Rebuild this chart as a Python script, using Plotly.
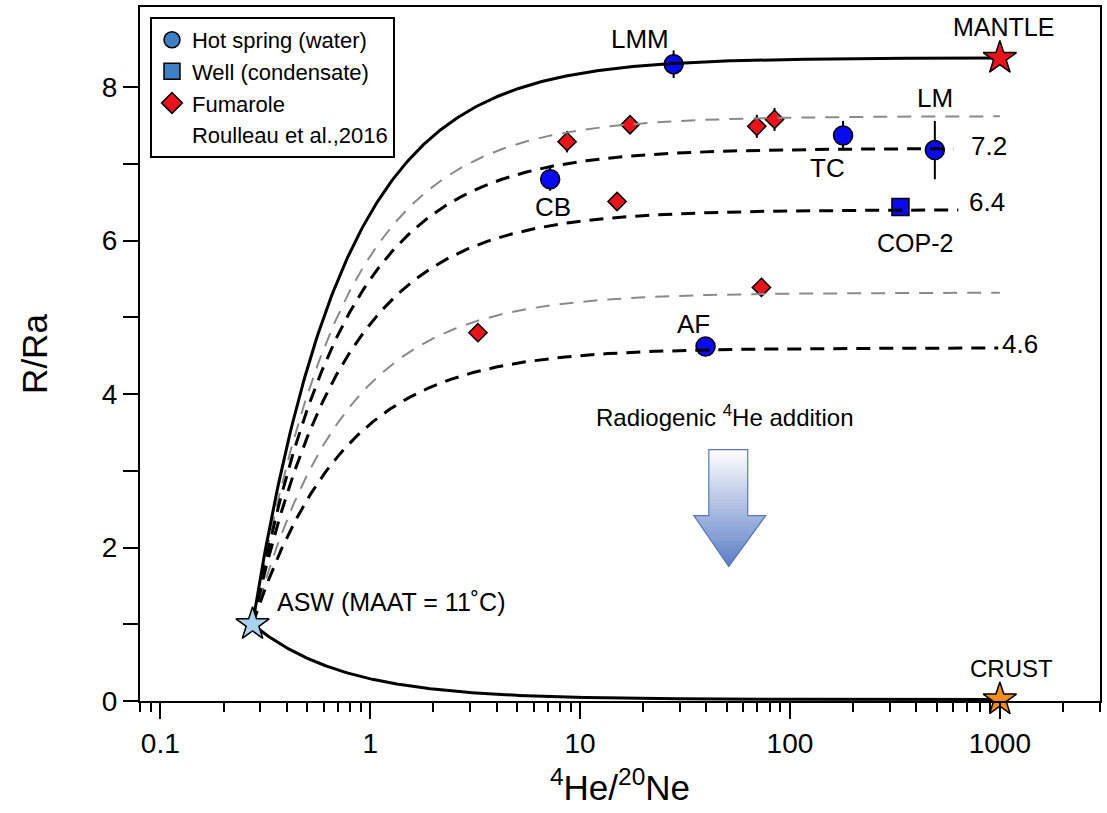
import numpy as np
import plotly.graph_objects as go

FONT = "Liberation Sans, Arial, Helvetica, sans-serif"

# ---- samples -------------------------------------------------------------
# Hot springs (water)
spring_names = ["LMM", "CB", "TC", "LM", "AF"]
spring_he_ne = [27.9, 7.2, 179.0, 490.0, 39.6]
spring_r_ra = [8.30, 6.80, 7.37, 7.18, 4.62]
spring_err = [0.18, 0.15, 0.19, 0.38, 0.0]

# Well (condensate)
well_names = ["COP-2"]
well_he_ne = [336.0]
well_r_ra = [6.44]
well_err = [0.08]

# Fumaroles (Roulleau et al., 2016)
fum_he_ne = [8.67, 17.3, 15.0, 69.5, 84.4, 3.26, 73.1]
fum_r_ra = [7.29, 7.51, 6.51, 7.49, 7.58, 4.80, 5.39]
fum_err = [0.14, 0.10, 0.0, 0.15, 0.15, 0.0, 0.0]

# ---- end-members -------------------------------------------------------------
asw_he_ne, asw_r_ra = 0.275, 1.0
mantle_he_ne, mantle_r_ra = 1000.0, 8.38
crust_he_ne, crust_r_ra = 1000.0, 0.02

# ASW-mixing curves: (end-member R/Ra, last 4He/20Ne drawn)
black_dash_r = [7.2, 6.4, 4.6]
black_dash_end = [600.0, 634.0, 982.0]
grey_dash_r = [7.62, 5.32]
grey_dash_end = [1000.0, 1000.0]


def mixing(r_end, x_end, x_stop, n=400):
    """Binary mixing between ASW and an end-member (x_end, r_end)."""
    x = np.logspace(np.log10(asw_he_ne), np.log10(x_stop), n)
    r = (asw_he_ne * asw_r_ra * (x_end - x) + x_end * r_end * (x - asw_he_ne)) / (
        x * (x_end - asw_he_ne))
    return x, r


fig = go.Figure()

# ---- sample markers ----------------------------------------------------------
err_style = dict(type="data", symmetric=True, color="black", thickness=2, width=0)

fig.add_trace(go.Scatter(
    x=spring_he_ne, y=spring_r_ra, mode="markers", showlegend=False,
    marker=dict(symbol="circle", size=19, color="#0a0af0",
                line=dict(color="black", width=1.5)),
    error_y=dict(array=spring_err, **err_style), cliponaxis=False))

fig.add_trace(go.Scatter(
    x=well_he_ne, y=well_r_ra, mode="markers", showlegend=False,
    marker=dict(symbol="square", size=17, color="#0a0af0",
                line=dict(color="black", width=1.5)),
    error_y=dict(array=well_err, **err_style), cliponaxis=False))

fig.add_trace(go.Scatter(
    x=fum_he_ne, y=fum_r_ra, mode="markers", showlegend=False,
    marker=dict(symbol="diamond", size=14, color="#e8141c",
                line=dict(color="black", width=1.5)),
    error_y=dict(array=fum_err, **err_style), cliponaxis=False))

# ---- mixing curves -----------------------------------------------------------
for r_end, x_stop in zip(grey_dash_r, grey_dash_end):
    x, r = mixing(r_end, mantle_he_ne, x_stop)
    fig.add_trace(go.Scatter(x=x, y=r, mode="lines", showlegend=False,
                             line=dict(color="#8a8a8a", width=2, dash="14px,10px")))

for r_end, x_stop in zip(black_dash_r, black_dash_end):
    x, r = mixing(r_end, mantle_he_ne, x_stop)
    fig.add_trace(go.Scatter(x=x, y=r, mode="lines", showlegend=False,
                             line=dict(color="black", width=3, dash="14px,9px")))

for r_end, x_end in [(mantle_r_ra, mantle_he_ne), (crust_r_ra, crust_he_ne)]:
    x, r = mixing(r_end, x_end, x_end)
    fig.add_trace(go.Scatter(x=x, y=r, mode="lines", showlegend=False,
                             line=dict(color="black", width=3)))

# ---- end-member stars --------------------------------------------------------
fig.add_trace(go.Scatter(
    x=[asw_he_ne, mantle_he_ne, crust_he_ne], y=[asw_r_ra, mantle_r_ra, crust_r_ra],
    mode="markers", showlegend=False, cliponaxis=False,
    marker=dict(symbol="star", size=25, color=["#a9d2ec", "#e8141c", "#f28c1c"],
                line=dict(color="black", width=1.5))))

# ---- legend entries ----------------------------------------------------------
legend_marker_line = dict(color="black", width=1.5)
fig.add_trace(go.Scatter(x=[None], y=[None], mode="markers", name="Hot spring (water)",
                         marker=dict(symbol="circle", size=16, color="#3f7fc4",
                                     line=legend_marker_line)))
fig.add_trace(go.Scatter(x=[None], y=[None], mode="markers", name="Well (condensate)",
                         marker=dict(symbol="square", size=16, color="#3f7fc4",
                                     line=legend_marker_line)))
fig.add_trace(go.Scatter(x=[None], y=[None], mode="markers", name="Fumarole",
                         marker=dict(symbol="diamond", size=16, color="#e8141c",
                                     line=legend_marker_line)))
fig.add_trace(go.Scatter(x=[None], y=[None], mode="markers", name="Roulleau et al.,2016",
                         marker=dict(symbol="circle", size=1, color="rgba(0,0,0,0)",
                                     line=dict(width=0))))

# ---- labels ------------------------------------------------------------------
ann = []


def label(text, x, y, dx, dy, size=26, anchor="center"):
    ann.append(dict(text=text, x=np.log10(x), y=y, xref="x", yref="y",
                    xshift=dx, yshift=dy, showarrow=False, xanchor=anchor,
                    yanchor="middle", font=dict(family=FONT, size=size, color="black")))


spring_offsets = {"LMM": (-34, 25), "CB": (3, -28), "TC": (-16, -32),
                  "LM": (0, 52), "AF": (-12, 23)}
for name, xv, yv in zip(spring_names, spring_he_ne, spring_r_ra):
    dx, dy = spring_offsets[name]
    label(name, xv, yv, dx, dy)
label(well_names[0], well_he_ne[0], well_r_ra[0], 15, -36, size=25)
label("MANTLE", mantle_he_ne, mantle_r_ra, 4, 31, size=25)
label("CRUST", crust_he_ne, crust_r_ra, 12, 31, size=24)
label("ASW (MAAT = 11˚C)", asw_he_ne, asw_r_ra, 22, 22, size=25, anchor="left")

label_shift = {7.2: (-11, 3), 6.4: (-13, 8), 4.6: (20, 4)}
for r_end in black_dash_r:
    dx, dy = label_shift[r_end]
    label(f"{r_end:.1f}", 1000.0, r_end, dx, dy, size=26)

# Plot-area pixel helpers for decorations
W, H = 1107, 813
ML, MR, MT, MB = 140, 5, 5, 112
PW, PH = W - ML - MR, H - MT - MB


def px(xp):
    return (xp - ML) / PW


def py(yp):
    return (H - MB - yp) / PH


ann.append(dict(text="Radiogenic <sup>4</sup>He addition", x=px(726), y=py(415),
                xref="paper", yref="paper", showarrow=False,
                font=dict(family=FONT, size=24, color="black")))

# ---- downward block arrow with a white-to-blue gradient ----------------------
shapes = []
a_top, a_neck, a_tip = 449.0, 515.0, 566.0
shaft_l, shaft_r = 710.0, 749.0
head_l, head_r, tip_x = 695.0, 767.0, 730.0
c_top = np.array([255, 255, 255])
c_bot = np.array([92, 126, 198])


def edges(yv):
    if yv <= a_neck:
        return shaft_l, shaft_r
    t = (yv - a_neck) / (a_tip - a_neck)
    return head_l + (tip_x - head_l) * t, head_r + (tip_x - head_r) * t


n_slices = 60
ys = np.unique(np.append(np.linspace(a_top, a_tip, n_slices + 1), a_neck))
for y0, y1 in zip(ys[:-1], ys[1:]):
    t = ((y0 + y1) / 2 - a_top) / (a_tip - a_top)
    col = c_top + (c_bot - c_top) * t
    if y0 >= a_neck:
        l0, r0 = edges(y0 + 1e-9)
    else:
        l0, r0 = edges(y0)
    if y1 <= a_neck:
        l1, r1 = shaft_l, shaft_r
    else:
        l1, r1 = edges(y1)
    path = (f"M {px(l0)},{py(y0)} L {px(r0)},{py(y0)} L {px(r1)},{py(y1 + 0.6)} "
            f"L {px(l1)},{py(y1 + 0.6)} Z")
    shapes.append(dict(type="path", xref="paper", yref="paper", path=path,
                       fillcolor=f"rgb({int(col[0])},{int(col[1])},{int(col[2])})",
                       line=dict(width=0), layer="above"))

outline = (f"M {px(shaft_l)},{py(a_top)} L {px(shaft_r)},{py(a_top)} "
           f"L {px(shaft_r)},{py(a_neck)} L {px(head_r)},{py(a_neck)} "
           f"L {px(tip_x)},{py(a_tip)} L {px(head_l)},{py(a_neck)} "
           f"L {px(shaft_l)},{py(a_neck)} Z")
shapes.append(dict(type="path", xref="paper", yref="paper", path=outline,
                   line=dict(color="#5a78b8", width=1.2), layer="above"))

# ---- axes --------------------------------------------------------------------
x_minor = [k * 10.0 ** e for e in range(-2, 4) for k in range(2, 10)
           if 0.08 <= k * 10.0 ** e <= 3000]

fig.update_layout(
    width=W, height=H,
    margin=dict(l=ML, r=MR, t=MT, b=MB),
    paper_bgcolor="white", plot_bgcolor="white",
    font=dict(family=FONT, color="black"),
    annotations=ann, shapes=shapes,
    legend=dict(x=px(150), y=py(15), xanchor="left", yanchor="top",
                bgcolor="white", bordercolor="black", borderwidth=2,
                font=dict(family=FONT, size=22, color="black"),
                itemsizing="trace", tracegroupgap=0),
    xaxis=dict(
        type="log", range=[np.log10(0.08), np.log10(3000)],
        tickvals=[0.1, 1, 10, 100, 1000], ticktext=["0.1", "1", "10", "100", "1000"],
        ticks="outside", ticklen=16, tickwidth=2, tickcolor="black",
        minor=dict(tickvals=x_minor, ticks="outside", ticklen=9, tickwidth=1.5,
                   tickcolor="black", showgrid=False),
        showline=True, linecolor="black", linewidth=2, mirror=True,
        showgrid=False, zeroline=False,
        tickfont=dict(family=FONT, size=28, color="black"),
        title=dict(text="<sup>4</sup>He/<sup>20</sup>Ne", standoff=18,
                   font=dict(family=FONT, size=35, color="black")),
    ),
    yaxis=dict(
        range=[0, 9.045], tickvals=[0, 2, 4, 6, 8],
        ticks="outside", ticklen=15, tickwidth=2, tickcolor="black",
        minor=dict(tickvals=[1, 3, 5, 7], ticks="outside", ticklen=15, tickwidth=2,
                   tickcolor="black", showgrid=False),
        showline=True, linecolor="black", linewidth=2, mirror=True,
        showgrid=False, zeroline=False,
        tickfont=dict(family=FONT, size=28, color="black"),
        title=dict(text="R/Ra", standoff=44,
                   font=dict(family=FONT, size=35, color="black")),
    ),
)

fig.write_html("out.html")
